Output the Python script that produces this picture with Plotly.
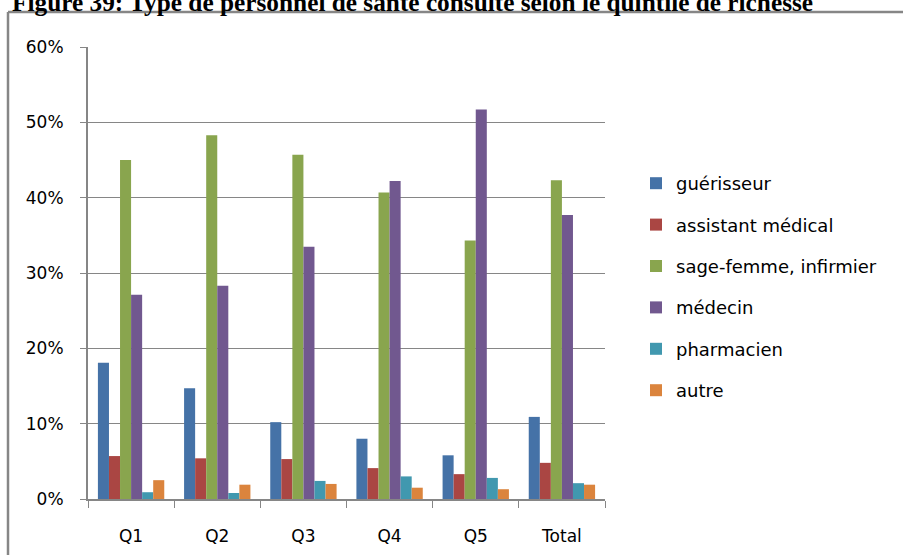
import plotly.graph_objects as go

categories = ["Q1", "Q2", "Q3", "Q4", "Q5", "Total"]
series_names = ["guérisseur", "assistant médical", "sage-femme, infirmier", "médecin", "pharmacien", "autre"]
guerisseur = [18.1, 14.7, 10.2, 8.0, 5.8, 10.9]
assistant_medical = [5.7, 5.4, 5.3, 4.1, 3.3, 4.8]
sage_femme = [45.0, 48.3, 45.7, 40.7, 34.3, 42.3]
medecin = [27.1, 28.3, 33.5, 42.2, 51.7, 37.7]
pharmacien = [0.9, 0.8, 2.4, 3.0, 2.8, 2.1]
autre = [2.5, 1.9, 2.0, 1.5, 1.3, 1.9]
colors = ["#4572A7", "#AA4643", "#89A54E", "#71588F", "#4198AF", "#DB843D"]
title_text = "Figure 39: Type de personnel de santé consulté selon le quintile de richesse"
y_ticks = [0, 10, 20, 30, 40, 50, 60]

all_series = [guerisseur, assistant_medical, sage_femme, medecin, pharmacien, autre]

W, H = 903, 555
L, R, T, B = 88, 605, 47, 499  # plot area in pixels

fig = go.Figure()
for i, (name, vals) in enumerate(zip(series_names, all_series)):
    fig.add_trace(go.Bar(
        x=categories, y=[v / 100 for v in vals], name=name,
        marker=dict(color=colors[i], line=dict(width=0)),
        legendgroup=name,
    ))

def px_x(px):
    return (px - L) / (R - L)

def px_y(py):
    return (B - py) / (B - T)

axis_col = "#868686"
font_main = "DejaVu Sans"

fig.update_layout(
    width=W, height=H,
    margin=dict(l=L, r=W - R, t=T, b=H - B, pad=0, autoexpand=False),
    paper_bgcolor="white", plot_bgcolor="white",
    barmode="group", bargap=0.23, bargroupgap=0,
    font=dict(family=font_main, size=17, color="#000000"),
    showlegend=True,
    legend=dict(
        x=px_x(636), xanchor="left", y=px_y(165), yanchor="top",
        font=dict(family=font_main, size=18, color="#000000"),
        tracegroupgap=15, itemwidth=30, bgcolor="rgba(0,0,0,0)",
    ),
    xaxis=dict(
        type="category", showline=True, linecolor=axis_col, linewidth=2,
        ticks="outside", tickson="boundaries", ticklen=7, tickwidth=1, tickcolor=axis_col,
        showgrid=False, ticklabelstandoff=21, automargin=False,
        tickfont=dict(family=font_main, size=17, color="#000000"),
        range=[-0.5, 5.5],
    ),
    yaxis=dict(
        range=[0, 0.6], tickvals=[t / 100 for t in y_ticks],
        ticktext=[f"{t}%" for t in y_ticks],
        showline=True, linecolor=axis_col, linewidth=2,
        ticks="outside", ticklen=6, tickwidth=1, tickcolor=axis_col,
        showgrid=True, gridcolor=axis_col, gridwidth=1,
        zeroline=False, ticklabelstandoff=13, automargin=False,
        tickfont=dict(family=font_main, size=17, color="#000000"),
    ),
    shapes=[
        dict(type="line", xref="paper", yref="paper", x0=px_x(8), x1=px_x(910), y0=px_y(12), y1=px_y(12),
             line=dict(color=axis_col, width=2.5)),
        dict(type="line", xref="paper", yref="paper", x0=px_x(8), x1=px_x(8), y0=px_y(12), y1=px_y(560),
             line=dict(color=axis_col, width=2.5)),
    ],
    annotations=[
        dict(text="<b>" + title_text + "</b>", xref="paper", yref="paper",
             x=px_x(10), xanchor="left", y=px_y(18), yanchor="bottom",
             showarrow=False, font=dict(family="Liberation Serif", size=25.3, color="#000000")),
    ],
)

fig.write_html("out.html", config={"displayModeBar": False},
               post_script="document.body.style.margin='0';document.body.style.overflow='hidden';")
